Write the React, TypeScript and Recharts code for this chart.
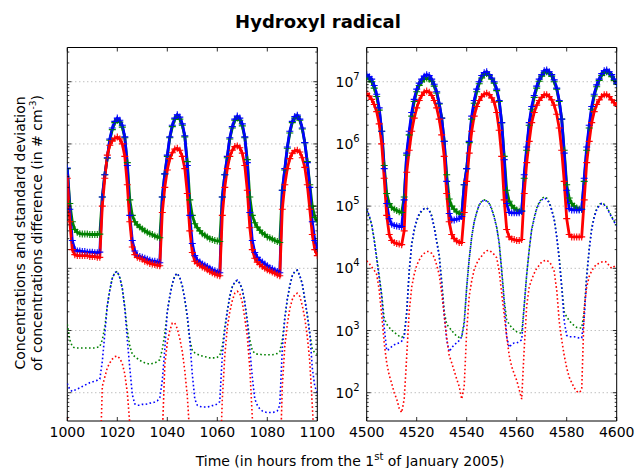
import React from "react";
import { LineChart, Line, XAxis, YAxis, ReferenceLine, ReferenceArea } from "recharts";

// hourly values, winter window (hours 1000..1100)
const GREEN_L = [
  4.0e5, 1.1e5, 5.6e4, 4.2e4, 3.8e4, 3.6e4, 3.55e4, 3.55e4, 3.55e4, 3.5e4,
  3.5e4, 3.5e4, 3.5e4, 3.55e4, 1.4e5, 3.2e5, 5.9e5, 1.15e6, 1.7e6, 2.2e6,
  2.4e6, 2.24e6, 1.86e6, 1.26e6, 5.0e5, 1.26e5, 7.1e4, 5.6e4, 5.0e4, 4.6e4,
  4.3e4, 4.0e4, 3.8e4, 3.6e4, 3.5e4, 3.3e4, 3.2e4, 3.1e4, 1.4e5, 3.3e5,
  6.3e5, 1.26e6, 1.9e6, 2.5e6, 2.75e6, 2.5e6, 2.0e6, 1.3e6, 5.2e5, 1.26e5,
  7.1e4, 5.2e4, 4.5e4, 4.0e4, 3.6e4, 3.4e4, 3.2e4, 3.0e4, 2.9e4, 2.8e4,
  2.75e4, 2.7e4, 1.4e5, 3.2e5, 6.0e5, 1.2e6, 1.8e6, 2.4e6, 2.6e6, 2.4e6,
  1.95e6, 1.26e6, 5.6e5, 1.4e5, 7.1e4, 5.4e4, 4.6e4, 4.1e4, 3.7e4, 3.5e4,
  3.2e4, 3.1e4, 2.95e4, 2.8e4, 2.7e4, 2.6e4, 1.8e5, 3.8e5, 8.5e5, 1.5e6,
  2.2e6, 2.6e6, 2.75e6, 2.4e6, 1.74e6, 1.05e6, 5.2e5, 2.2e5, 1.0e5, 6.6e4,
  5.6e4,
];
const BLUE_L = [
  4.1e5, 8.9e4, 2.8e4, 2.0e4, 1.9e4, 1.9e4, 1.86e4, 1.86e4, 1.82e4, 1.82e4,
  1.82e4, 1.78e4, 1.78e4, 1.82e4, 1.4e5, 3.2e5, 6.0e5, 1.2e6, 1.8e6, 2.3e6,
  2.6e6, 2.4e6, 2.0e6, 1.3e6, 4.5e5, 7.1e4, 2.8e4, 1.9e4, 1.6e4, 1.55e4,
  1.5e4, 1.45e4, 1.4e4, 1.35e4, 1.3e4, 1.3e4, 1.26e4, 1.23e4, 1.4e5, 3.3e5,
  6.6e5, 1.3e6, 2.0e6, 2.6e6, 2.95e6, 2.7e6, 2.1e6, 1.35e6, 4.5e5, 7.1e4,
  2.5e4, 1.6e4, 1.35e4, 1.26e4, 1.17e4, 1.12e4, 1.07e4, 1.0e4, 9.5e3, 9.1e3,
  8.7e3, 8.5e3, 1.4e5, 3.2e5, 6.3e5, 1.26e6, 1.9e6, 2.5e6, 2.8e6, 2.6e6,
  2.1e6, 1.3e6, 5.0e5, 7.9e4, 2.8e4, 1.8e4, 1.5e4, 1.35e4, 1.26e4, 1.17e4,
  1.1e4, 1.02e4, 9.8e3, 9.3e3, 8.9e3, 8.5e3, 1.8e5, 4.0e5, 8.9e5, 1.6e6,
  2.3e6, 2.75e6, 2.9e6, 2.5e6, 1.8e6, 1.05e6, 5.0e5, 2.0e5, 5.6e4, 2.8e4,
  2.1e4,
];
const RED_L = [
  2.8e5, 5.6e4, 2.0e4, 1.66e4, 1.6e4, 1.6e4, 1.6e4, 1.6e4, 1.6e4, 1.55e4,
  1.55e4, 1.55e4, 1.5e4, 1.5e4, 1.0e5, 2.8e5, 6.6e5, 9.5e5, 1.12e6, 1.23e6,
  1.29e6, 1.2e6, 1.0e6, 6.3e5, 2.2e5, 5.6e4, 2.2e4, 1.66e4, 1.5e4, 1.45e4,
  1.4e4, 1.3e4, 1.26e4, 1.2e4, 1.17e4, 1.15e4, 1.12e4, 1.1e4, 7.9e4, 2.0e5,
  3.8e5, 5.8e5, 7.2e5, 8.3e5, 8.5e5, 7.9e5, 6.3e5, 4.0e5, 1.6e5, 4.0e4,
  1.8e4, 1.3e4, 1.2e4, 1.12e4, 1.05e4, 1.0e4, 9.5e3, 8.9e3, 8.5e3, 8.1e3,
  7.8e3, 7.6e3, 7.1e4, 2.0e5, 4.0e5, 6.3e5, 7.9e5, 9.1e5, 9.3e5, 8.7e5,
  7.1e5, 4.5e5, 1.8e5, 4.5e4, 2.0e4, 1.45e4, 1.26e4, 1.15e4, 1.07e4, 1.0e4,
  9.5e3, 9.1e3, 8.7e3, 8.3e3, 7.9e3, 7.6e3, 8.9e4, 2.2e5, 4.0e5, 5.8e5,
  7.1e5, 7.8e5, 7.9e5, 7.4e5, 6.0e5, 4.2e5, 2.2e5, 8.9e4, 3.5e4, 2.0e4,
  1.6e4,
];
const GREEN_SD_L = [
  1260, 708, 550, 525, 525, 525, 525, 525, 525, 525,
  525, 525, 537, 550, 708, 1120, 2510, 4470, 6920, 8510,
  8910, 7080, 4790, 2400, 1000, 562, 417, 380, 355, 331,
  316, 302, 295, 288, 295, 302, 316, 339, 501, 891,
  2000, 3550, 5620, 7590, 8320, 7080, 5250, 3160, 1580, 708,
  479, 437, 417, 398, 389, 380, 372, 363, 363, 363,
  372, 398, 562, 1120, 2090, 3550, 5010, 6030, 6460, 5750,
  4570, 2820, 1410, 708, 479, 427, 417, 417, 407, 407,
  407, 407, 407, 417, 427, 457, 708, 1580, 3160, 5250,
  7590, 8910, 9330, 7590, 5620, 3160, 1780, 891, 501, 437,
  417,
];
const BLUE_SD_L = [
  141, 112, 105, 110, 115, 120, 126, 132, 138, 145,
  148, 155, 158, 166, 316, 891, 2510, 4470, 6920, 8510,
  8910, 7080, 4790, 2240, 708, 251, 93, 66, 63, 63,
  65, 65, 66, 68, 69, 71, 74, 83, 158, 501,
  2000, 3550, 5620, 7590, 8320, 7080, 5250, 3160, 1780, 708,
  200, 79, 63, 60, 59, 59, 59, 60, 62, 63,
  66, 72, 398, 1000, 2000, 3550, 5010, 6030, 6460, 5750,
  4570, 2820, 1410, 501, 178, 79, 63, 55, 51, 49,
  48, 48, 48, 49, 51, 63, 501, 1580, 3160, 5250,
  7590, 8910, 9330, 7590, 5620, 3160, 1780, 891, 251, 126,
  100,
];
const RED_SD_L = [
  40, 13, 5, 5, 5, 5, 5, 5, 5, 5,
  5, 5, 5, 5, 126, 178, 251, 302, 347, 380,
  389, 355, 295, 200, 100, 32, 5, 5, 5, 5,
  5, 5, 5, 5, 5, 5, 5, 5, 20, 282,
  631, 1000, 1320, 1320, 1070, 741, 457, 224, 89, 20,
  5, 5, 5, 5, 5, 5, 5, 5, 5, 5,
  5, 5, 79, 398, 1120, 2000, 3020, 3980, 4270, 3980,
  2820, 1580, 794, 251, 40, 5, 5, 5, 5, 5,
  5, 5, 5, 5, 5, 5, 126, 562, 1260, 2240,
  3160, 3800, 3980, 3550, 2510, 1580, 794, 316, 63, 10,
  5,
];

// hourly values, summer window (hours 4500..4600)
const GREEN_R = [
  1.2e7, 1.1e7, 1.0e7, 7.9e6, 5.8e6, 3.5e6, 1.6e6, 4.5e5, 1.6e5, 1.1e5,
  9.5e4, 8.9e4, 8.5e4, 8.1e4, 7.9e4, 1.4e5, 6.6e5, 1.4e6, 2.8e6, 4.8e6,
  6.9e6, 8.7e6, 1.0e7, 1.1e7, 1.15e7, 1.1e7, 1.02e7, 8.5e6, 6.6e6, 4.4e6,
  2.6e6, 1.1e6, 3.2e5, 1.3e5, 1.0e5, 8.9e4, 8.1e4, 7.6e4, 7.4e4, 2.2e5,
  4.0e5, 1.05e6, 2.5e6, 4.5e6, 6.9e6, 9.3e6, 1.15e7, 1.3e7, 1.35e7, 1.26e7,
  1.1e7, 9.5e6, 7.2e6, 4.8e6, 2.2e6, 6.3e5, 1.8e5, 1.2e5, 1.02e5, 9.3e4,
  8.7e4, 8.3e4, 8.3e4, 2.8e5, 7.9e5, 2.0e6, 3.6e6, 5.6e6, 7.9e6, 1.02e7,
  1.23e7, 1.4e7, 1.45e7, 1.35e7, 1.23e7, 1.0e7, 7.6e6, 4.8e6, 2.5e6, 7.9e5,
  2.2e5, 1.35e5, 1.1e5, 1.0e5, 9.3e4, 8.9e4, 8.9e4, 2.5e5, 7.9e5, 1.8e6,
  3.6e6, 5.9e6, 8.3e6, 1.05e7, 1.26e7, 1.4e7, 1.45e7, 1.35e7, 1.2e7, 1.05e7,
  9.1e6,
];
const BLUE_R = [
  1.3e7, 1.2e7, 1.1e7, 8.7e6, 6.3e6, 3.8e6, 1.6e6, 4.0e5, 1.1e5, 6.3e4,
  5.1e4, 4.9e4, 4.8e4, 4.7e4, 4.7e4, 1.26e5, 7.1e5, 1.6e6, 3.2e6, 5.2e6,
  7.6e6, 9.5e6, 1.1e7, 1.23e7, 1.3e7, 1.26e7, 1.1e7, 9.1e6, 6.9e6, 4.5e6,
  2.6e6, 1.1e6, 2.5e5, 7.6e4, 6.0e4, 6.0e4, 6.2e4, 6.3e4, 6.8e4, 2.2e5,
  4.0e5, 1.1e6, 2.8e6, 5.0e6, 7.6e6, 1.0e7, 1.26e7, 1.4e7, 1.45e7, 1.3e7,
  1.15e7, 1.0e7, 7.6e6, 5.0e6, 2.2e6, 5.6e5, 1.1e5, 7.9e4, 7.8e4, 7.8e4,
  7.8e4, 7.8e4, 8.3e4, 3.2e5, 8.9e5, 2.2e6, 4.0e6, 6.0e6, 8.5e6, 1.1e7,
  1.3e7, 1.5e7, 1.55e7, 1.45e7, 1.3e7, 1.07e7, 7.9e6, 5.0e6, 2.5e6, 7.1e5,
  1.8e5, 9.1e4, 8.7e4, 8.7e4, 8.7e4, 8.7e4, 8.9e4, 2.8e5, 8.9e5, 2.0e6,
  4.0e6, 6.3e6, 8.9e6, 1.1e7, 1.35e7, 1.5e7, 1.55e7, 1.45e7, 1.3e7, 1.1e7,
  9.3e6,
];
const RED_R = [
  6.5e6, 5.9e6, 5.2e6, 4.3e6, 3.3e6, 2.1e6, 1.0e6, 2.8e5, 7.1e4, 3.5e4,
  2.8e4, 2.6e4, 2.5e4, 2.45e4, 2.4e4, 4.0e4, 3.5e5, 7.9e5, 1.6e6, 2.6e6,
  3.8e6, 5.0e6, 6.0e6, 6.8e6, 7.1e6, 6.8e6, 6.0e6, 5.0e6, 3.8e6, 2.5e6,
  1.4e6, 6.3e5, 1.6e5, 5.6e4, 3.5e4, 3.0e4, 2.75e4, 2.6e4, 2.6e4, 7.9e4,
  2.5e5, 7.1e5, 1.6e6, 2.8e6, 4.0e6, 5.0e6, 5.8e6, 6.3e6, 6.5e6, 6.2e6,
  5.5e6, 4.7e6, 3.2e6, 1.66e6, 6.3e5, 1.26e5, 4.2e4, 3.2e4, 2.95e4, 2.9e4,
  2.8e4, 2.8e4, 2.9e4, 1.6e5, 5.0e5, 1.1e6, 2.2e6, 3.2e6, 4.2e6, 5.0e6,
  5.6e6, 6.2e6, 6.2e6, 5.8e6, 5.1e6, 4.2e6, 3.0e6, 1.8e6, 7.9e5, 2.5e5,
  6.3e4, 3.5e4, 3.2e4, 3.2e4, 3.2e4, 3.2e4, 3.2e4, 1.26e5, 5.0e5, 1.1e6,
  2.2e6, 3.3e6, 4.3e6, 5.1e6, 5.8e6, 6.2e6, 6.2e6, 5.8e6, 5.1e6, 4.6e6,
  4.2e6,
];
const GREEN_SD_R = [
  8.5e4, 6.9e4, 5.0e4, 2.95e4, 1.5e4, 7600, 3800, 1580, 1260, 1120,
  1020, 933, 871, 813, 776, 832, 2000, 8910, 2.4e4, 4.0e4,
  5.75e4, 7.2e4, 8.3e4, 9.1e4, 9.3e4, 8.7e4, 7.1e4, 4.7e4, 2.8e4, 1.66e4,
  6310, 2000, 1260, 1120, 1000, 891, 813, 776, 794, 1410,
  5010, 1.4e4, 3.2e4, 5.6e4, 7.9e4, 1.05e5, 1.2e5, 1.26e5, 1.23e5, 1.12e5,
  9.1e4, 6.8e4, 4.6e4, 2.6e4, 9550, 3160, 1480, 1260, 1120, 1020,
  955, 912, 912, 2510, 7940, 2.0e4, 4.2e4, 6.6e4, 9.3e4, 1.15e5,
  1.32e5, 1.41e5, 1.35e5, 1.15e5, 8.9e4, 6.3e4, 3.3e4, 1.5e4, 5250, 2000,
  1660, 1450, 1290, 1200, 1120, 1100, 1100, 2000, 7590, 2.1e4,
  4.4e4, 6.9e4, 9.1e4, 1.07e5, 1.12e5, 1.07e5, 9.8e4, 8.1e4, 6.8e4, 5.75e4,
  4.9e4,
];
const BLUE_SD_R = [
  8.9e4, 7.1e4, 5.0e4, 2.8e4, 1.4e4, 7100, 3550, 1120, 479, 501,
  550, 589, 617, 631, 676, 794, 1910, 8910, 2.5e4, 4.2e4,
  6.0e4, 7.6e4, 8.5e4, 9.1e4, 9.3e4, 8.5e4, 6.8e4, 4.5e4, 2.6e4, 1.6e4,
  5600, 1800, 708, 457, 525, 589, 631, 692, 794, 1260,
  5010, 1.4e4, 3.2e4, 5.6e4, 7.9e4, 1.05e5, 1.17e5, 1.26e5, 1.2e5, 1.1e5,
  8.9e4, 6.6e4, 4.5e4, 2.5e4, 8910, 2800, 794, 537, 603, 631,
  631, 661, 708, 2510, 7940, 2.0e4, 4.2e4, 6.3e4, 9.1e4, 1.12e5,
  1.26e5, 1.35e5, 1.29e5, 1.12e5, 8.5e4, 6.0e4, 3.2e4, 1.4e4, 5010, 1410,
  832, 794, 794, 794, 776, 759, 759, 1580, 7080, 2.0e4,
  4.2e4, 6.6e4, 8.7e4, 1.02e5, 1.1e5, 1.05e5, 9.5e4, 7.9e4, 6.6e4, 5.6e4,
  4.8e4,
];
const RED_SD_R = [
  1.32e4, 1.2e4, 1.05e4, 9330, 7940, 4470, 1780, 631, 302, 191,
  141, 100, 79, 56, 48, 79, 380, 2000, 5010, 7940,
  1.12e4, 1.35e4, 1.58e4, 1.74e4, 1.86e4, 1.86e4, 1.74e4, 1.51e4, 1.12e4, 7940,
  3980, 1780, 759, 398, 302, 224, 166, 126, 79, 126,
  1000, 3550, 6310, 9550, 1.2e4, 1.41e4, 1.58e4, 1.78e4, 1.91e4, 1.95e4,
  1.82e4, 1.66e4, 1.48e4, 8910, 3980, 1780, 794, 398, 263, 200,
  158, 112, 79, 501, 2510, 5010, 6610, 8320, 1.0e4, 1.12e4,
  1.26e4, 1.32e4, 1.35e4, 1.26e4, 1.12e4, 8910, 4470, 1410, 708, 398,
  251, 178, 145, 120, 105, 100, 112, 2240, 5010, 7410,
  9120, 1.05e4, 1.17e4, 1.2e4, 1.26e4, 1.29e4, 1.26e4, 1.1e4, 1.0e4, 1.07e4,
  1.15e4,
];

const X_TICKS_L = [1000, 1020, 1040, 1060, 1080, 1100];
const X_TICKS_R = [4500, 4520, 4540, 4560, 4580, 4600];
const Y_MAJOR = [1e2, 1e3, 1e4, 1e5, 1e6, 1e7];
const Y_MINOR = [
  40, 50, 60, 70, 80, 90,
  200, 300, 400, 500, 600, 700, 800, 900,
  2e3, 3e3, 4e3, 5e3, 6e3, 7e3, 8e3, 9e3,
  2e4, 3e4, 4e4, 5e4, 6e4, 7e4, 8e4, 9e4,
  2e5, 3e5, 4e5, 5e5, 6e5, 7e5, 8e5, 9e5,
  2e6, 3e6, 4e6, 5e6, 6e6, 7e6, 8e6, 9e6,
  2e7, 3e7,
];
const Y_DOMAIN: [number, number] = [35.1, 3.55e7];
const Y_TICKS = [...Y_MAJOR, ...Y_MINOR].sort((a, b) => a - b);

const PLOT_W = 250;
const PLOT_H = 373.5;
const PLOT_TOP = 47.5;
const AXIS_W = 30;
const AXIS_H = 30;
const FONT = "DejaVu Sans, Verdana, sans-serif";

const GREEN = "#008000";
const BLUE = "#0000ff";
const RED = "#ff0000";

function buildRows(start: number, g: number[], b: number[], r: number[], gs: number[], bs: number[], rs: number[]) {
  return g.map((_, i) => ({ t: start + i, g: g[i], b: b[i], r: r[i], gs: gs[i], bs: bs[i], rs: rs[i] }));
}

const rowsLeft = buildRows(1000, GREEN_L, BLUE_L, RED_L, GREEN_SD_L, BLUE_SD_L, RED_SD_L);
const rowsRight = buildRows(4500, GREEN_R, BLUE_R, RED_R, GREEN_SD_R, BLUE_SD_R, RED_SD_R);

const plus = (color: string) => (p: any) => {
  const { cx, cy, index } = p;
  if (cx == null || cy == null) return <g key={index} />;
  return (
    <path
      key={index}
      d={`M${cx - 3.5},${cy}H${cx + 3.5}M${cx},${cy - 3.5}V${cy + 3.5}`}
      stroke={color}
      strokeWidth={1.1}
      fill="none"
    />
  );
};

const yTick = (labels: boolean) => (p: any) => {
  const { x, y, payload } = p;
  const v = payload.value;
  const e = Math.round(Math.log10(v));
  const major = Y_MAJOR.includes(v);
  const len = major ? 4 : 2;
  return (
    <g key={`y${v}`}>
      <line x1={x} x2={x + len} y1={y} y2={y} stroke="#000" strokeWidth={0.8} />
      <line x1={x + PLOT_W} x2={x + PLOT_W - len} y1={y} y2={y} stroke="#000" strokeWidth={0.8} />
      {labels && major && (
        <text x={x - 7} y={y + 5} textAnchor="end" fontSize={14} fontFamily={FONT} fill="#000">
          10<tspan dy={-7} fontSize={10}>{e}</tspan>
        </text>
      )}
    </g>
  );
};

const xTick = (p: any) => {
  const { x, y, payload } = p;
  return (
    <g key={`x${payload.value}`}>
      <line x1={x} x2={x} y1={y} y2={y - 4} stroke="#000" strokeWidth={0.8} />
      <line x1={x} x2={x} y1={y - PLOT_H} y2={y - PLOT_H + 4} stroke="#000" strokeWidth={0.8} />
      <text x={x} y={y + 16} textAnchor="middle" fontSize={14} fontFamily={FONT} fill="#000">
        {payload.value}
      </text>
    </g>
  );
};

function Panel({ rows, xTicks, labels, left, plotLeft, width }: any) {
  const dom: [number, number] = [xTicks[0], xTicks[xTicks.length - 1]];
  return (
    <div style={{ position: "absolute", left, top: 0 }}>
      <LineChart
        width={width}
        height={468}
        data={rows}
        margin={{
          top: PLOT_TOP,
          left: plotLeft - AXIS_W,
          right: width - plotLeft - PLOT_W,
          bottom: 468 - PLOT_TOP - PLOT_H - AXIS_H,
        }}
      >
        <XAxis
          dataKey="t"
          type="number"
          domain={dom}
          ticks={xTicks}
          interval={0}
          height={AXIS_H}
          tickSize={0}
          tickMargin={0}
          axisLine={false}
          tickLine={false}
          allowDataOverflow
          tick={xTick}
        />
        <YAxis
          type="number"
          scale="log"
          domain={Y_DOMAIN}
          ticks={Y_TICKS}
          interval={0}
          width={AXIS_W}
          tickSize={0}
          tickMargin={0}
          axisLine={false}
          tickLine={false}
          allowDataOverflow
          tick={yTick(labels)}
        />
        {Y_MAJOR.map((v) => (
          <ReferenceLine key={v} y={v} stroke="#9a9a9a" strokeWidth={0.9} strokeDasharray="1 3" />
        ))}
        <Line dataKey="gs" stroke={GREEN} strokeWidth={1.6} strokeDasharray="1.6 2.4" dot={false} isAnimationActive={false} />
        <Line dataKey="bs" stroke={BLUE} strokeWidth={1.6} strokeDasharray="1.6 2.4" dot={false} isAnimationActive={false} />
        <Line dataKey="rs" stroke={RED} strokeWidth={1.6} strokeDasharray="1.6 2.4" dot={false} isAnimationActive={false} />
        <Line dataKey="g" stroke={GREEN} strokeWidth={2.8} dot={plus(GREEN)} isAnimationActive={false} />
        <Line dataKey="b" stroke={BLUE} strokeWidth={2.8} dot={plus(BLUE)} isAnimationActive={false} />
        <Line dataKey="r" stroke={RED} strokeWidth={2.8} dot={plus(RED)} isAnimationActive={false} />
        <ReferenceArea x1={dom[0]} x2={dom[1]} y1={Y_DOMAIN[0]} y2={Y_DOMAIN[1]} fill="none" stroke="#000" strokeWidth={1} ifOverflow="visible" />
      </LineChart>
    </div>
  );
}

export default function App() {
  return (
    <div style={{ position: "absolute", left: 0, top: 0, width: 635, height: 468, background: "#fff", overflow: "hidden" }}>
      <svg width={635} height={468} style={{ position: "absolute", left: 0, top: 0 }}>
        <text x={318} y={28} textAnchor="middle" fontSize={18} fontWeight="bold" fontFamily={FONT}>
          Hydroxyl radical
        </text>
        <text transform="translate(25,233) rotate(-90)" textAnchor="middle" fontSize={14} fontFamily={FONT}>
          Concentrations and standard deviation
        </text>
        <text transform="translate(42,233) rotate(-90)" textAnchor="middle" fontSize={14} fontFamily={FONT}>
          of concentrations difference (in # cm<tspan dy={-6} fontSize={9}>-3</tspan>
          <tspan dy={6}>)</tspan>
        </text>
        <text x={350} y={466} textAnchor="middle" fontSize={14} fontFamily={FONT}>
          Time (in hours from the 1<tspan dy={-6} fontSize={10}>st</tspan>
          <tspan dy={6}> of January 2005)</tspan>
        </text>
      </svg>
      <Panel rows={rowsLeft} xTicks={X_TICKS_L} labels={false} left={0} plotLeft={67.3} width={345} />
      <Panel rows={rowsRight} xTicks={X_TICKS_R} labels left={330} plotLeft={36.7} width={305} />
    </div>
  );
}
